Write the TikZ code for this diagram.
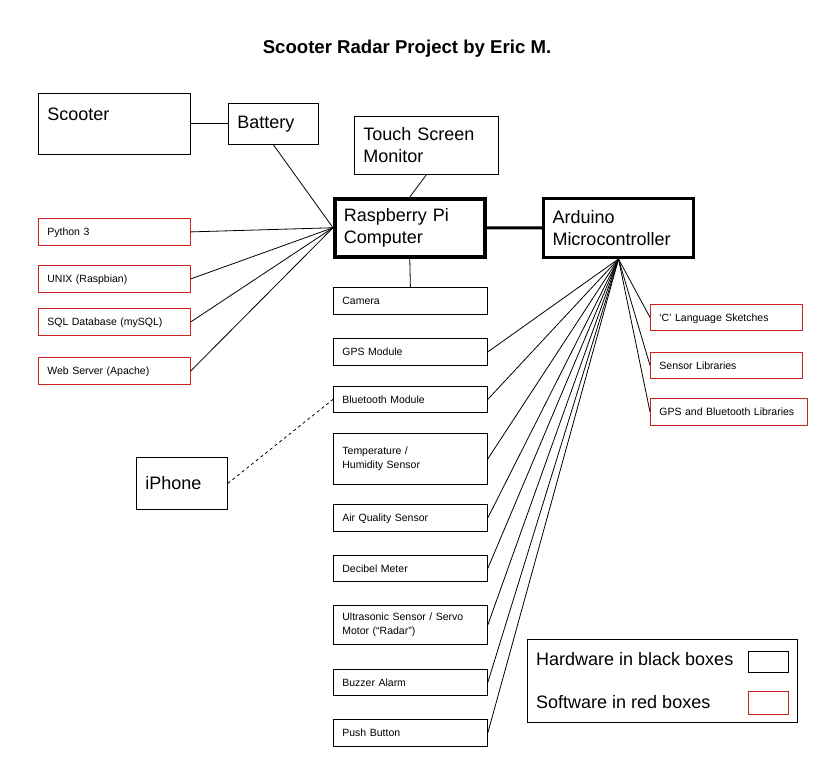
\documentclass[tikz,border=0pt]{standalone}
\usepackage{fontspec}
\setmainfont{Liberation Sans}
\usepackage{xcolor}
\usepackage{tikz}
\usetikzlibrary{shadows}
\definecolor{myred}{HTML}{CC2222}
\tikzset{
	box/.style={draw,line width=0.8pt,anchor=north west,inner xsep=9pt,inner ysep=0pt,align=left,font=\fontsize{18}{22}\selectfont},
	part/.style={box,text width=136pt,minimum height=27pt,text depth=0pt,font=\fontsize{10.5}{13.5}\selectfont},
	soft/.style={part,draw=myred,text width=134pt},
	link/.style={line width=0.8pt},
}

\begin{document}
\begin{tikzpicture}[x=1pt,y=-1pt]
		\useasboundingbox (0,0) rectangle (816,765);

		\node[font=\bfseries\fontsize{18.6}{22}\selectfont] (title) at (407,49) {Scooter Radar Project by Eric M.};

		% main hardware
		\node[box,text width=134pt,text height=27pt,text depth=34pt] (scooter) at (38,93) {Scooter};
		\node[box,text width=72pt,minimum height=41pt] (battery) at (228,103) {Battery};
		\node[box,text width=126pt,minimum height=58pt] (touch) at (354,116) {Touch Screen\\Monitor};
		\node[box,line width=3.5pt,fill=white,drop shadow={opacity=0.35,shadow xshift=1pt,shadow yshift=-1.5pt},text width=132pt,minimum height=58pt] (rpi) at (333,197) {Raspberry Pi\\Computer};
		\node[box,line width=3pt,text width=132pt,minimum height=59pt] (arduino) at (542,197) {Arduino\\Microcontroller};
		\node[box,text width=73pt,minimum height=52pt] (iphone) at (136,457) {iPhone};

		% software on the pi
		\node[soft] (python) at (38,218) {Python 3};
		\node[soft] (unix) at (38,265) {UNIX (Raspbian)};
		\node[soft] (sql) at (38,308) {SQL Database (mySQL)};
		\node[soft] (web) at (38,357) {Web Server (Apache)};

		% parts
		\node[part] (camera) at (333,287) {Camera};
		\node[part] (gps) at (333,338) {GPS Module};
		\node[part,minimum height=26pt] (bt) at (333,386) {Bluetooth Module};
		\node[part,text depth={},minimum height=51pt] (temp) at (333,433) {Temperature /\\Humidity Sensor\\[6pt]};
		\node[part] (air) at (333,504) {Air Quality Sensor};
		\node[part,minimum height=26pt] (decibel) at (333,555) {Decibel Meter};
		\node[part,text depth={},minimum height=39pt] (ultra) at (333,605) {Ultrasonic Sensor / Servo\\Motor (“Radar”)};
		\node[part,minimum height=26pt] (buzzer) at (333,669) {Buzzer Alarm};
		\node[part] (push) at (333,719) {Push Button};

		% software on the arduino
		\node[soft,minimum height=26pt] (csketch) at (650,304) {‘C’ Language Sketches};
		\node[soft,minimum height=26pt] (sensorlib) at (650,352) {Sensor Libraries};
		\node[soft,text width=139pt] (gpsbtlib) at (650,398) {GPS and Bluetooth Libraries};

		% legend
		\node[draw,line width=0.8pt,anchor=north west,minimum width=270pt,minimum height=83pt] (legend) at (527,639) {};
		\node[anchor=west,inner sep=0pt,font=\fontsize{18}{22}\selectfont] (hwtext) at (536,659) {Hardware in black boxes};
		\node[draw,line width=0.8pt,anchor=north west,minimum width=40pt,minimum height=21pt] (hwkey) at (748,651) {};
		\node[anchor=west,inner sep=0pt,font=\fontsize{18}{22}\selectfont] (swtext) at (536,702) {Software in red boxes};
		\node[draw=myred,line width=0.8pt,anchor=north west,minimum width=40pt,minimum height=23pt] (swkey) at (748,691) {};

		\draw[link] (scooter.east) -- (battery.west);
		\draw[link] (battery.south) -- (rpi.west);
		\foreach \n in {python,unix,sql,web}
			\draw[link] (\n.east) -- (rpi.west);
		\draw[link] (touch.south) -- (rpi.north);
		\draw[link] (rpi.south) -- (camera.north);
		\draw[line width=3pt] (rpi.east) -- (arduino.west);
		\foreach \n in {gps,bt,temp,air,decibel,ultra,buzzer,push}
			\draw[link] (arduino.south) -- (\n.east);
		\foreach \n in {csketch,sensorlib,gpsbtlib}
			\draw[link] (arduino.south) -- (\n.west);
		\draw[link,dashed] (iphone.east) -- (bt.west);
	\end{tikzpicture}
\end{document}
